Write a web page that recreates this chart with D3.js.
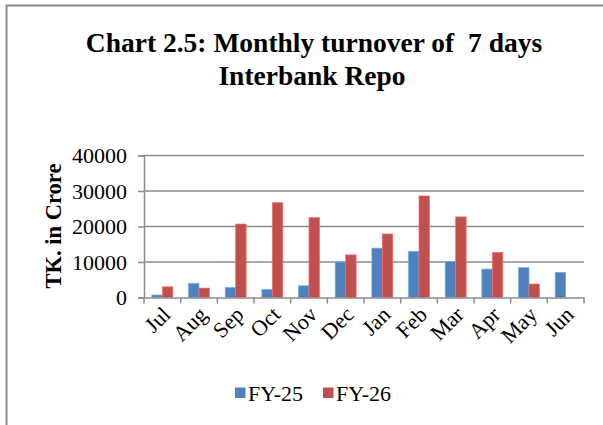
<!DOCTYPE html>
<html>
<head>
<meta charset="UTF-8">
<script src="https://d3js.org/d3.v7.min.js"></script>
<style>
  body { margin: 0; background: #fff; font-family: "Liberation Serif", "Times New Roman", serif; }
  svg text { font-family: "Liberation Serif", "Times New Roman", serif; fill: #000; }
</style>
</head>
<body>
<div id="chart"></div>
<script>
// data
const months = ["Jul", "Aug", "Sep", "Oct", "Nov", "Dec", "Jan", "Feb", "Mar", "Apr", "May", "Jun"];
const fy25 = [700, 4000, 2800, 2250, 3300, 10000, 13900, 13000, 10100, 8000, 8400, 7100];
const fy26 = [3000, 2650, 20700, 26700, 22500, 12000, 17900, 28600, 22700, 12700, 3800, null];
const seriesNames = ["FY-25", "FY-26"];
const seriesColors = ["#4F81BD", "#C0504D"];
const yTicks = [0, 10000, 20000, 30000, 40000];

const W = 603, H = 425;
const plot = { left: 144, right: 584, top: 155.5, bottom: 297.5 };

const svg = d3.select("#chart").append("svg")
  .attr("width", W).attr("height", H);

svg.append("rect").attr("width", W).attr("height", H).attr("fill", "#fff");

// outer frame (left and top edges visible)
svg.append("path")
  .attr("d", `M6.5,${H} V5.5 H${W}`)
  .attr("fill", "none").attr("stroke", "#8a8a8a").attr("stroke-width", 2);

// title
const title = svg.append("text")
  .attr("text-anchor", "middle")
  .style("font-size", "27.5px").style("font-weight", "bold");
title.append("tspan").attr("x", 314).attr("y", 52).attr("xml:space", "preserve").text("Chart 2.5: Monthly turnover of  7 days");
title.append("tspan").attr("x", 312).attr("y", 85).text("Interbank Repo");

const x = d3.scaleBand().domain(months).range([plot.left, plot.right]).paddingInner(0).paddingOuter(0);
const y = d3.scaleLinear().domain([0, 40000]).range([plot.bottom, plot.top]);

// gridlines
svg.append("g").selectAll("line").data(yTicks.filter(d => d > 0)).join("line")
  .attr("x1", plot.left).attr("x2", plot.right)
  .attr("y1", d => y(d)).attr("y2", d => y(d))
  .attr("stroke", "#8c8c8c").attr("stroke-width", 1.5);

// y axis
const yAxis = svg.append("g").attr("transform", `translate(${plot.left},0)`)
  .call(d3.axisLeft(y).tickValues(yTicks).tickSize(6).tickPadding(11).tickFormat(d3.format("d")));
yAxis.select(".domain").attr("stroke", "#8c8c8c").attr("stroke-width", 1.5);
yAxis.selectAll(".tick line").attr("stroke", "#8c8c8c").attr("stroke-width", 1.5);
yAxis.selectAll(".tick text").style("font-size", "22px").attr("font-family", null);

// bars: 150% gap width
const inner = d3.scaleBand().domain(seriesNames).range([0, x.bandwidth()]).paddingOuter(0.75).paddingInner(0);
const seriesData = [fy25, fy26];
seriesNames.forEach((name, si) => {
  svg.append("g").selectAll("rect")
    .data(months.map((m, i) => ({ m, v: seriesData[si][i] })).filter(d => d.v != null))
    .join("rect")
    .attr("x", d => x(d.m) + inner(name))
    .attr("width", inner.bandwidth())
    .attr("y", d => y(d.v))
    .attr("height", d => y(0) - y(d.v))
    .attr("fill", seriesColors[si])
    .attr("stroke", d3.color(seriesColors[si]).brighter(0.8))
    .attr("stroke-width", 0.7);
});

// x axis
const xAxis = svg.append("g").attr("transform", `translate(0,${plot.bottom})`)
  .call(d3.axisBottom(x).tickSize(0).tickFormat(""));
xAxis.select(".domain").attr("stroke", "#8c8c8c").attr("stroke-width", 1.5);
xAxis.selectAll(".tick").remove();
const bounds = months.map(m => x(m)).concat([plot.right]);
xAxis.append("g").selectAll("line").data(bounds).join("line")
  .attr("x1", d => d).attr("x2", d => d).attr("y1", 0).attr("y2", 6)
  .attr("stroke", "#8c8c8c").attr("stroke-width", 1.5);
xAxis.append("g").selectAll("text").data(months).join("text")
  .attr("transform", d => `translate(${x(d) + x.bandwidth() / 2 + 4},${13}) rotate(-45)`)
  .attr("text-anchor", "end")
  .attr("dy", "0.35em")
  .style("font-size", "22px")
  .text(d => d);

// y axis title
svg.append("text")
  .attr("transform", `translate(61,226) rotate(-90)`)
  .attr("text-anchor", "middle")
  .style("font-size", "22.5px").style("font-weight", "bold")
  .text("TK. in Crore");

// legend
const legend = svg.append("g");
const legendX = [235, 323];
seriesNames.forEach((name, i) => {
  legend.append("rect").attr("x", legendX[i]).attr("y", 387.5).attr("width", 10.5).attr("height", 10.5)
    .attr("fill", seriesColors[i]);
  legend.append("text").attr("x", legendX[i] + 13).attr("y", 400.5)
    .style("font-size", "22px").text(name);
});
</script>
</body>
</html>
